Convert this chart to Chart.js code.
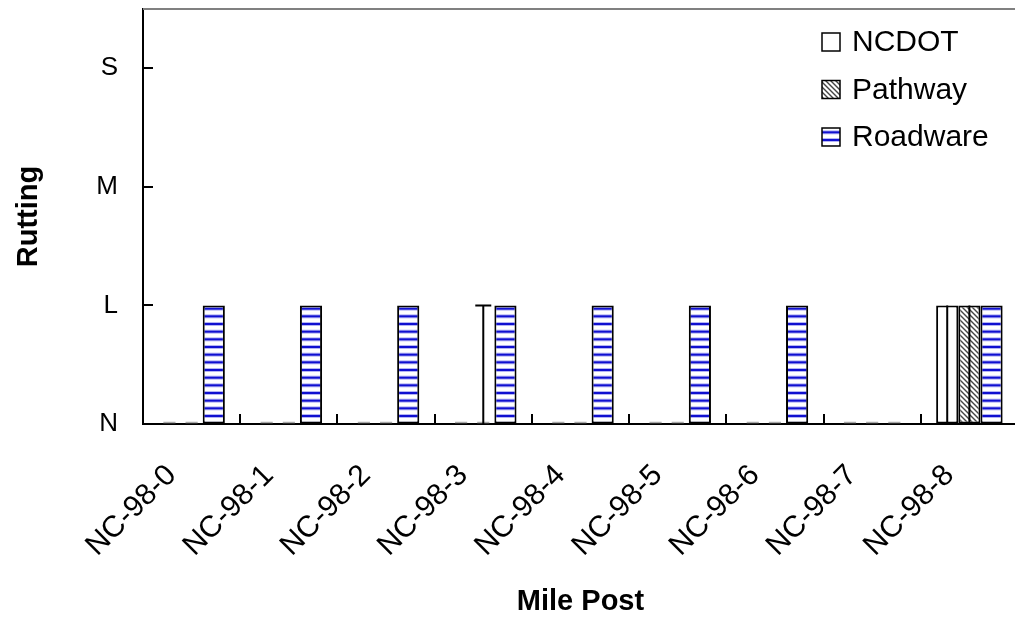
<!DOCTYPE html>
<html lang="en">
<head>
<meta charset="UTF-8">
<title>Rutting by Mile Post</title>
<script src="https://cdn.jsdelivr.net/npm/chart.js"></script>
<style>
  html, body { margin: 0; padding: 0; background: #fff; overflow: hidden; }
  #wrap { width: 1020px; height: 619px; }
</style>
</head>
<body>
<div id="wrap"><canvas id="rutChart" width="1020" height="619"></canvas></div>
<script>
// data
const milePosts = ['NC-98-0', 'NC-98-1', 'NC-98-2', 'NC-98-3', 'NC-98-4', 'NC-98-5', 'NC-98-6', 'NC-98-7', 'NC-98-8'];
const severityLabels = ['N', 'L', 'M', 'S'];
const ncdot    = [0, 0, 0, 0, 0, 0, 0, 0, 1];
const pathway  = [0, 0, 0, 0, 0, 0, 0, 0, 1];
const roadware = [1, 1, 1, 1, 1, 1, 1, 0, 1];
// error bar lengths measured from the bar top (+ up, - down)
const ncdotErr   = [0, 0, 0, 0, 0, 0, 0, 0, -1];
const pathwayErr = [0, 0, 0, 1, 0, 0, 0, 0, -1];

const canvas = document.getElementById('rutChart');
const ctx = canvas.getContext('2d');
const FONT = '"Liberation Sans", Arial, sans-serif';

function hatchPattern() {
    const c = document.createElement('canvas');
    c.width = 5; c.height = 5;
    const g = c.getContext('2d');
    g.fillStyle = '#fff';
    g.fillRect(0, 0, 5, 5);
    g.strokeStyle = '#444';
    g.lineWidth = 1.4;
    g.beginPath();
    for (let k = -5; k <= 5; k += 5) {
        g.moveTo(k - 1, -1);
        g.lineTo(k + 6, 6);
    }
    g.stroke();
    return ctx.createPattern(c, 'repeat');
}

function stripePattern() {
    const c = document.createElement('canvas');
    c.width = 4; c.height = 23;
    const g = c.getContext('2d');
    g.fillStyle = '#fff';
    g.fillRect(0, 0, 4, 23);
    [1, 8.67, 16.33].forEach(y => {
        g.fillStyle = '#b4b4f4';
        g.fillRect(0, y - 1, 4, 4);
        g.fillStyle = '#1010d0';
        g.fillRect(0, y, 4, 2);
    });
    return ctx.createPattern(c, 'repeat');
}

const errors = [ncdotErr, pathwayErr, null];

const extras = {
    id: 'extras',
    afterDatasetsDraw(chart) {
        const c = chart.ctx;
        const y = chart.scales.y;
        const area = chart.chartArea;
        chart.data.datasets.forEach((ds, di) => {
            const meta = chart.getDatasetMeta(di);
            meta.data.forEach((bar, i) => {
                const v = ds.data[i];
                if (v === 0) {
                    // Excel leaves a faint stub for empty bars
                    c.save();
                    c.strokeStyle = '#a8a8a8';
                    c.lineWidth = 1.5;
                    c.beginPath();
                    c.moveTo(bar.x - bar.width / 2 + 5, area.bottom - 1.5);
                    c.lineTo(bar.x + bar.width / 2 - 5, area.bottom - 1.5);
                    c.stroke();
                    c.restore();
                }
                const err = errors[di] ? errors[di][i] : 0;
                if (err) {
                    const y0 = y.getPixelForValue(v);
                    const y1 = y.getPixelForValue(v + err);
                    c.save();
                    c.strokeStyle = '#000';
                    c.lineWidth = 2;
                    c.beginPath();
                    c.moveTo(bar.x, y0);
                    c.lineTo(bar.x, y1);
                    c.moveTo(bar.x - 8, y1);
                    c.lineTo(bar.x + 8, y1);
                    c.stroke();
                    c.restore();
                }
            });
        });
    },
    afterDraw(chart) {
        const c = chart.ctx;
        const area = chart.chartArea;
        const x = chart.scales.x;
        const y = chart.scales.y;
        c.save();
        // top border of plot area
        c.strokeStyle = '#808080';
        c.lineWidth = 2;
        c.beginPath();
        c.moveTo(area.left, area.top);
        c.lineTo(area.right, area.top);
        c.stroke();
        // inside tick marks
        c.strokeStyle = '#000';
        c.lineWidth = 2;
        c.beginPath();
        for (let v = 1; v < severityLabels.length; v++) {
            const py = Math.round(y.getPixelForValue(v));
            c.moveTo(area.left, py);
            c.lineTo(area.left + 10, py);
        }
        for (let i = 1; i < milePosts.length; i++) {
            const px = Math.round((x.getPixelForValue(i - 1) + x.getPixelForValue(i)) / 2);
            c.moveTo(px, area.bottom);
            c.lineTo(px, area.bottom - 10);
        }
        c.stroke();
        // legend in the top right corner
        c.font = '30px ' + FONT;
        c.textBaseline = 'middle';
        c.textAlign = 'left';
        chart.data.datasets.forEach((ds, k) => {
            const cy = 42 + k * 47.5;
            c.fillStyle = ds.backgroundColor;
            c.fillRect(822, cy - 9, 18, 18);
            c.strokeStyle = '#000';
            c.lineWidth = 1.5;
            c.strokeRect(822, cy - 9, 18, 18);
            c.fillStyle = '#000';
            c.fillText(ds.label, 852, cy + 1);
        });
        c.restore();
    }
};

const barStyle = { borderColor: '#000', borderWidth: 2, borderSkipped: false, categoryPercentage: 0.684, barPercentage: 1.0 };

function noPad(scale) {
    scale.paddingTop = 0;
    scale.paddingBottom = 0;
    scale.paddingLeft = 0;
    scale.paddingRight = 0;
}

new Chart(ctx, {
    type: 'bar',
    data: {
        labels: milePosts,
        datasets: [
            Object.assign({ label: 'NCDOT', data: ncdot, backgroundColor: '#ffffff' }, barStyle),
            Object.assign({ label: 'Pathway', data: pathway, backgroundColor: hatchPattern() }, barStyle),
            Object.assign({ label: 'Roadware', data: roadware, backgroundColor: stripePattern() }, barStyle)
        ]
    },
    options: {
        responsive: false,
        animation: false,
        layout: { padding: { top: 9, right: 2, left: 0, bottom: 0 } },
        plugins: { legend: { display: false }, tooltip: { enabled: false } },
        scales: {
            x: {
                grid: { drawOnChartArea: false, drawTicks: false },
                border: { color: '#000', width: 2 },
                ticks: {
                    color: '#000',
                    font: { family: FONT, size: 30 },
                    maxRotation: 45,
                    minRotation: 45,
                    autoSkip: false,
                    padding: 34,
                    labelOffset: -20
                },
                title: {
                    display: true,
                    text: 'Mile Post',
                    color: '#000',
                    font: { family: FONT, size: 29, weight: 'bold' },
                    padding: { top: 2, bottom: 0 }
                },
                afterFit(scale) { scale.height = 195; noPad(scale); }
            },
            y: {
                min: 0,
                max: 3.5,
                grid: { drawOnChartArea: false, drawTicks: false },
                border: { color: '#000', width: 2 },
                afterBuildTicks(scale) {
                    scale.ticks = severityLabels.map((s, v) => ({ value: v }));
                },
                ticks: {
                    color: '#000',
                    font: { family: FONT, size: 26 },
                    padding: 25,
                    callback: v => severityLabels[v]
                },
                title: {
                    display: true,
                    text: 'Rutting',
                    color: '#000',
                    font: { family: FONT, size: 29, weight: 'bold' },
                    padding: { top: 12, bottom: 0 }
                },
                afterFit(scale) { scale.width = 143; noPad(scale); }
            }
        }
    },
    plugins: [extras]
});
</script>
</body>
</html>
